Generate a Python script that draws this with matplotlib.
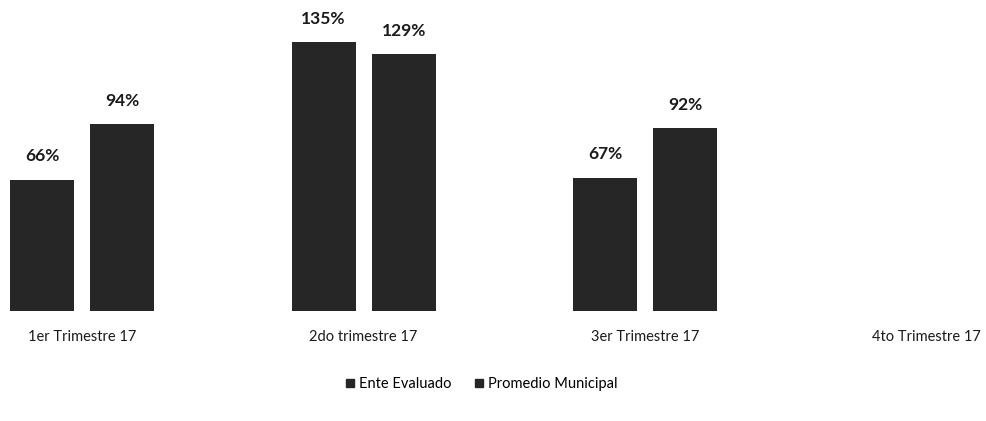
import matplotlib
matplotlib.use("Agg")
import matplotlib.pyplot as plt
import numpy as np
from matplotlib.lines import Line2D

categories = ["1er Trimestre 17", "2do trimestre 17", "3er Trimestre 17", "4to Trimestre 17"]
ente_evaluado = [66, 135, 67, None]
promedio_municipal = [94, 129, 92, None]
series_names = ["Ente Evaluado", "Promedio Municipal"]

plt.rcParams['font.family'] = ['Lato', 'DejaVu Sans']

W, H = 987, 421
fig = plt.figure(figsize=(W / 100, H / 100), dpi=100)
base_y = 311
ax = fig.add_axes([0, (H - base_y) / H, 1, base_y / H])
step = 281.6
c0 = 82.0
ax.set_xlim(-c0 / step, (W - c0) / step)
ax.set_ylim(0, base_y / 1.99)

color = "#262626"
x = np.arange(len(categories))
bw = 64 / step
off = 40 / step
for vals, sign in ((ente_evaluado, -1), (promedio_municipal, 1)):
    for i, v in enumerate(vals):
        if v is None:
            continue
        ax.bar(x[i] + sign * off, v, width=bw, color=color)
        ax.annotate(f"{v}%", (x[i] + sign * off, v), xytext=(0, 11), textcoords="offset points",
                    ha="center", va="bottom", fontsize=12.5, fontweight="bold", color="#1a1a1a")

ax.axis("off")
for i, c in enumerate(categories):
    fig.text((c0 + step * i) / W, (H - 337) / H, c, ha="center", va="center", fontsize=10.5, color="#1a1a1a")

handles = [Line2D([], [], marker="s", ls="none", color=color, markersize=6) for _ in series_names]
fig.legend(handles, series_names, loc="center", bbox_to_anchor=(481 / W, (H - 384) / H), ncol=2,
           frameon=False, fontsize=10.5, handletextpad=0.2, columnspacing=1.5, handlelength=0.8)

fig.savefig("out.png", dpi=100)
